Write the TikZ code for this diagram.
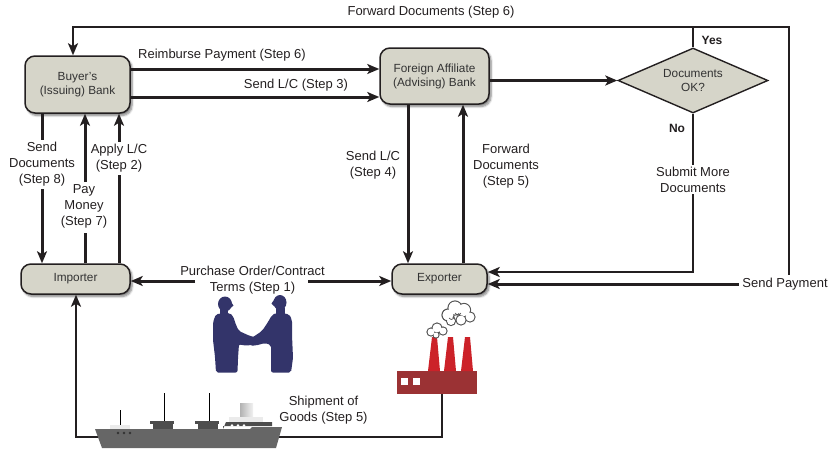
\documentclass[tikz,border=0pt]{standalone}
\usepackage{fontspec}
\setmainfont{Liberation Sans}
\usetikzlibrary{arrows.meta,shapes.geometric,shadows.blur,calc}
\definecolor{boxfill}{HTML}{D6D5C9}
\definecolor{ink}{HTML}{231F20}
\definecolor{navy}{HTML}{33346A}
\definecolor{brick}{HTML}{9B3234}
\definecolor{stack}{HTML}{CC2229}
\definecolor{hull}{HTML}{666666}
\definecolor{deckhouse}{HTML}{4D4D4D}
\definecolor{smoke}{HTML}{555555}
\begin{document}
\begin{tikzpicture}[x=1pt,y=-1pt,
  box/.style={draw=ink, line width=1.5pt, fill=boxfill, rounded corners=10pt,
    align=center, font=\fontsize{11.8}{14}\selectfont, text=black!80,
    blur shadow={shadow xshift=2pt, shadow yshift=-2.5pt, shadow blur steps=6, shadow opacity=50}},
  decision/.style={draw=ink, line width=1.4pt, fill=boxfill, diamond, aspect=2.3,
    inner sep=0pt, align=center, font=\fontsize{11.8}{13.5}\selectfont, text=black!80,
    minimum width=150pt, minimum height=65pt},
  flow/.style={draw=ink, line width=3pt, -{Stealth[length=12pt,width=10pt,inset=3pt]}},
  thinflow/.style={flow, line width=2.3pt},
  wire/.style={draw=ink, line width=2.3pt},
  thickwire/.style={draw=ink, line width=3pt},
  lbl/.style={font=\fontsize{13}{16}\selectfont, text=ink, align=center, inner sep=2pt},
  cut/.style={lbl, fill=white},
  answer/.style={font=\bfseries\fontsize{12}{14}\selectfont, text=ink},
]
\useasboundingbox (0,0) rectangle (829,448);

% ---- boxes ----
\node[box, minimum width=105pt, minimum height=57pt] (buyer) at (77.5,84.5) {Buyer's\\(Issuing) Bank};
\node[box, minimum width=109pt, minimum height=56pt] (affiliate) at (434.5,76) {Foreign Affiliate\\(Advising) Bank};
\node[decision] (check) at (693,80.5) {Documents\\OK?};
\node[box, minimum width=109pt, minimum height=30pt] (importer) at (75.5,279) {Importer};
\node[box, minimum width=95pt, minimum height=30pt] (exporter) at (439.5,279) {Exporter};

% ---- routing points ----
\coordinate (yesTop) at (693,27);
\coordinate (topLeft) at (73,27);
\coordinate (topRight) at (789,27);
\coordinate (payCorner) at (789,284);
\coordinate (noCorner) at (693,272);
\coordinate (poL) at (195,281);
\coordinate (poR) at (308,281);
\coordinate (moneyLow) at (85,233);
\coordinate (moneyHigh) at (85,182);
\coordinate (factoryBase) at (442,394);
\coordinate (shipDrop) at (442,437);
\coordinate (shipTurn) at (76,437);

% ---- connectors ----
\draw[thinflow] (check.north) -- (yesTop) -- (topLeft) -- ([xshift=-4.5pt]buyer.north);
\draw[wire] (yesTop) -- (topRight) -- (payCorner);
\draw[flow] (payCorner) -- ([yshift=-5pt]exporter.east);
\draw[thinflow] (check.south) -- (noCorner) -- ([yshift=7pt]exporter.east);

\draw[flow] ([yshift=15.5pt]buyer.east) -- ([yshift=7pt]affiliate.west);
\draw[flow] ([yshift=-12.5pt]buyer.east) -- ([yshift=-21pt]affiliate.west);
\draw[flow] (affiliate.east |- check.west) -- (check.west);

\draw[flow] ([xshift=-26.5pt]affiliate.south) -- ([xshift=-31.5pt]exporter.north);
\draw[flow] ([xshift=23.5pt]exporter.north) -- ([xshift=28.5pt]affiliate.south);

\draw[flow] ([xshift=-35.5pt]buyer.south) -- ([xshift=-33.5pt]importer.north);
\draw[thickwire] ([xshift=9.5pt]importer.north) -- (moneyLow);
\draw[flow] (moneyHigh) -- ([xshift=7.5pt]buyer.south);
\draw[flow] ([xshift=43.5pt]importer.north) -- ([xshift=41.5pt]buyer.south);

\draw[flow] (poL) -- (importer.east |- poL);
\draw[flow] (poR) -- (exporter.west |- poR);

\draw[thinflow] (factoryBase) -- (shipDrop) -- (shipTurn) -- (importer.south -| shipTurn);

% ---- labels ----
\node[lbl] (lForward6) at (431,12) {Forward Documents (Step 6)};
\node[lbl] (lReimb) at (222,55) {Reimburse Payment (Step 6)};
\node[lbl] (lSend3) at (296,85) {Send L/C (Step 3)};
\node[answer] (lYes) at (712,40) {Yes};
\node[answer] (lNo) at (677,128) {No};
\node[cut] (lSubmit) at (693,179.5) {Submit More\\Documents};
\node[lbl] (lSend4) at (373,165.5) {Send L/C\\(Step 4)};
\node[lbl] (lFwd5) at (506,166) {Forward\\Documents\\(Step 5)};
\node[cut, inner xsep=1pt] (lSend8) at (42,164.5) {Send\\Documents\\(Step 8)};
\node[cut, inner xsep=1pt] (lApply) at (119,158.5) {Apply L/C\\(Step 2)};
\node[lbl] (lPay) at (84,206.5) {Pay\\Money\\(Step 7)};
\node[lbl] (lPO) at (252.5,280) {Purchase Order/Contract\\Terms (Step 1)};
\node[cut, inner sep=3pt] (lPay2) at (785,284) {Send Payment};
\node[lbl] (lShip) at (323.5,410) {Shipment of\\Goods (Step 5)};

% ---- handshake ----
\begin{scope}[fill=navy]
  % person on the left, facing right
  \fill (225,304) ellipse (7pt and 7.5pt);
  \fill (230,300.5) -- (233.5,305.5) -- (230.5,308) -- cycle;
  \fill (220,309) rectangle (228,316);
  \fill[rounded corners=2pt] (216,314) -- (230,313) -- (233,316) -- (236,325) -- (239,331)
        -- (250,336) -- (257,337.5) -- (259.5,341) -- (255,345) -- (243,345.5) -- (239,344)
        -- (238,358) -- (237.5,372.5) -- (216,372.5) -- (215,357) -- (213,340) -- (213,322) -- cycle;
  % person on the right, facing left
  \fill (280,302.5) ellipse (6.5pt and 7.5pt);
  \fill (275,298.5) -- (271.5,303.5) -- (274.5,306.5) -- cycle;
  \fill (276,308) rectangle (285,315);
  \fill[rounded corners=2pt] (276,313) -- (289,314) -- (292,320) -- (292,335) -- (293,358)
        -- (291,372.5) -- (271,372.5) -- (271,345) -- (265,343) -- (256,345.5) -- (250,345.5)
        -- (247.5,341) -- (253,337) -- (262,331) -- (268,322) -- (272,315) -- cycle;
\end{scope}

% ---- factory ----
\fill[brick] (397,371) rectangle (477,394);
\fill[white] (401,378) rectangle (408,385);
\fill[white] (413,378) rectangle (420,385);
\fill[stack] (428,371) -- (432,337) -- (437,337) -- (440,371) -- cycle;
\fill[stack] (444,371) -- (448,337) -- (453,337) -- (456,371) -- cycle;
\fill[stack] (461,371) -- (465,337) -- (470,337) -- (473,371) -- cycle;
% smoke
\begin{scope}
  \foreach \cx/\cy/\r in {448/315/6, 455/308/7, 464/310/6.5, 470/317/5, 461/320/5, 451/321/4.5,
                          431/332/4, 437/328/5, 443/331/4, 436/335/3} {
    \filldraw[draw=smoke, line width=1.2pt, fill=white] (\cx,\cy) circle ({\r*1pt});
  }
  \foreach \cx/\cy/\r in {448/315/6, 455/308/7, 464/310/6.5, 470/317/5, 461/320/5, 451/321/4.5,
                          431/332/4, 437/328/5, 443/331/4, 436/335/3} {
    \fill[white] (\cx,\cy) circle ({\r*1pt-0.6pt});
  }
  \draw[smoke, line width=0.7pt] (455,313) .. controls (458,316) .. (461,313);
  \draw[smoke, line width=0.7pt] (449,318) .. controls (451,320) .. (454,318);
\end{scope}

% ---- ship ----
\draw[black, line width=1pt] (120,410) -- (120,426);
\draw[black, line width=1pt] (164,393) -- (164,422);
\draw[black, line width=1pt] (209,393) -- (209,422);
\fill[black!8] (110,425) rectangle (130,429);
\fill[deckhouse] (150,421) rectangle (174,423.5);
\fill[deckhouse] (153,422) rectangle (173,429);
\fill[deckhouse] (195,421) rectangle (219,423.5);
\fill[deckhouse] (198,422) rectangle (218,429);
\shade[left color=black!30, right color=black!5] (240,403) rectangle (253,417);
\fill[black!8] (229,417) rectangle (263,422);
\fill[deckhouse] (223,429) -- (226,422) -- (272,422) -- (272,426) -- (223,426) -- cycle;
\fill[black!8] (251,426) rectangle (263,431);
\fill[hull] (95,429) -- (250,429) -- (252,427) -- (282,427) -- (276,448) -- (102,448) -- cycle;
\foreach \dx in {232,238,244} \fill[white] (\dx,425.5) circle (1.3pt);
\foreach \dx in {118,124,130} \fill[black!80] (\dx,433) circle (1.3pt);
\end{tikzpicture}
\end{document}
